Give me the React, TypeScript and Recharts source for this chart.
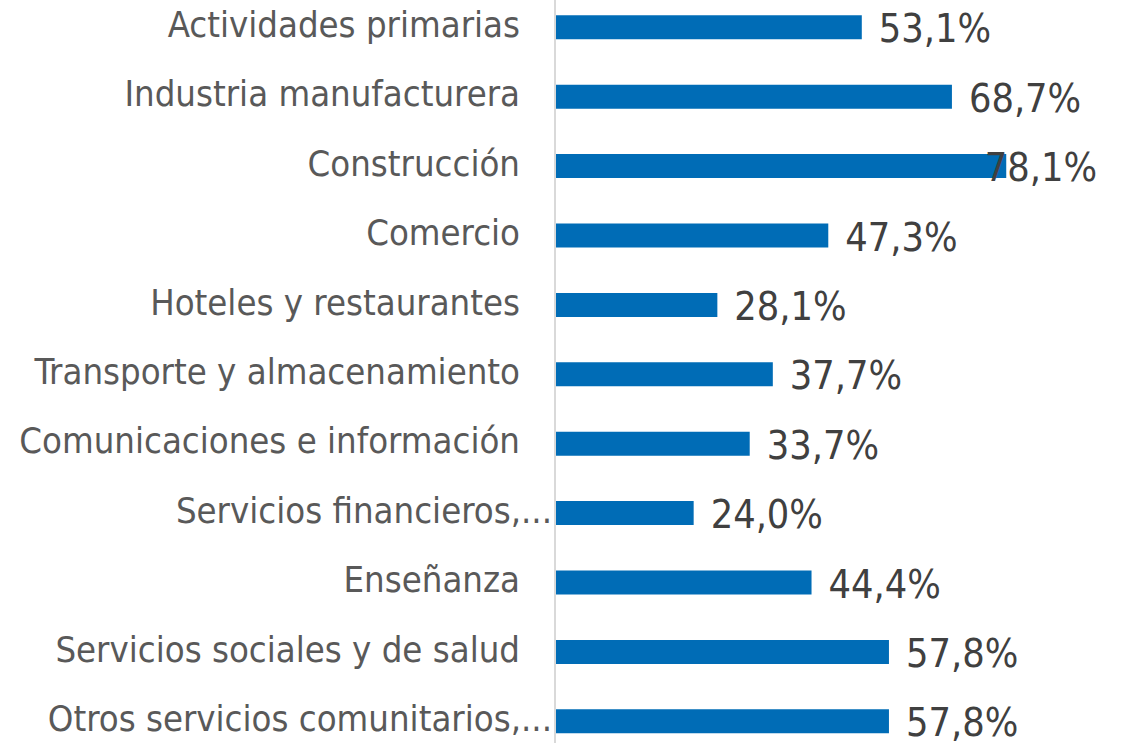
import React from "react";
import { BarChart, Bar, XAxis, YAxis, LabelList } from "recharts";

const categories = [
  "Actividades primarias",
  "Industria manufacturera",
  "Construcción",
  "Comercio",
  "Hoteles y restaurantes",
  "Transporte y almacenamiento",
  "Comunicaciones e información",
  "Servicios financieros,...",
  "Enseñanza",
  "Servicios sociales y de salud",
  "Otros servicios comunitarios,...",
];

const values = [53.1, 68.7, 78.1, 47.3, 28.1, 37.7, 33.7, 24.0, 44.4, 57.8, 57.8];

const data = categories.map((name, i) => ({ name, value: values[i] }));

const FONT = "'DejaVu Sans Condensed', 'DejaVu Sans', sans-serif";
const LABEL_LIMIT = 1097;

const fmt = (v: number) => v.toFixed(1).replace(".", ",") + "%";

const CategoryTick = (props: any) => {
  const { x, y, payload } = props;
  const label: string = payload.value;
  const truncated = label.endsWith("...");
  const endX = truncated ? x - 3 : x - 35;
  return (
    <text
      x={endX}
      y={y + 10}
      textAnchor="end"
      fill="#595959"
      fontSize={36.2}
      fontFamily={FONT}
    >
      {label}
    </text>
  );
};

const ValueLabel = (props: any) => {
  const { x, y, width, height, value } = props;
  const end = x + width;
  const cy = y + height / 2;
  const estW = 112;
  let tx = end + 17;
  let anchor: "start" | "end" = "start";
  if (tx + estW > LABEL_LIMIT) {
    tx = LABEL_LIMIT;
    anchor = "end";
  }
  return (
    <text
      x={tx}
      y={cy + 15}
      textAnchor={anchor}
      fill="#404040"
      fontSize={39.3}
      fontFamily={FONT}
    >
      {fmt(value)}
    </text>
  );
};

export default function App() {
  return (
    <div style={{ position: "absolute", left: 0, top: -20, width: 1128, height: 800, background: "#fff" }}>
      <BarChart
        width={1128}
        height={800}
        data={data}
        layout="vertical"
        margin={{ top: 12.3, right: 53, bottom: 24.3, left: 0 }}
        barCategoryGap={0}
      >
        <XAxis type="number" domain={[0, 90]} hide />
        <YAxis
          type="category"
          dataKey="name"
          width={555}
          tickLine={false}
          tickSize={0}
          tickMargin={0}
          axisLine={{ stroke: "#D9D9D9", strokeWidth: 2 }}
          tick={<CategoryTick />}
          interval={0}
        />
        <Bar dataKey="value" fill="#006CB6" barSize={24} isAnimationActive={false}>
          <LabelList dataKey="value" content={<ValueLabel />} />
        </Bar>
      </BarChart>
    </div>
  );
}
